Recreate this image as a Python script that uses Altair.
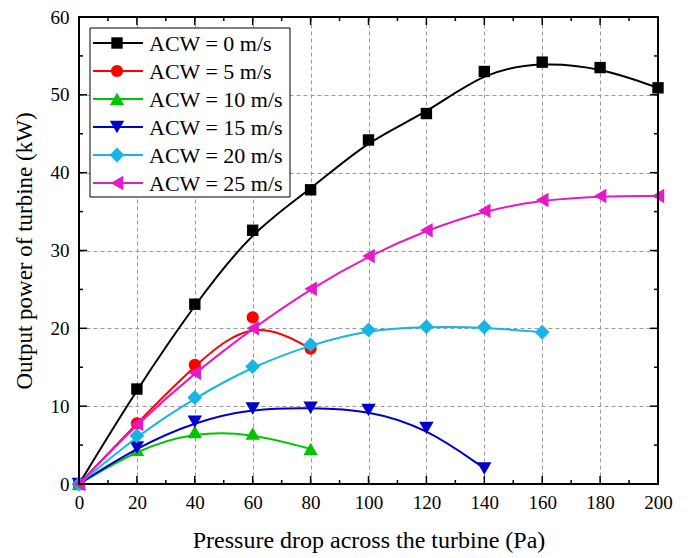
import altair as alt
import pandas as pd

# ---- data ----
x_vals = [0, 20, 40, 60, 80, 100, 120, 140, 160, 180, 200]
acw0 = [0, 12.2, 23.1, 32.6, 37.8, 44.2, 47.6, 53.0, 54.2, 53.5, 50.9]
acw5 = [0, 7.8, 15.3, 21.4, 17.4]
acw10 = [0, 4.4, 6.7, 6.5, 4.5]
acw15 = [0, 4.7, 8.0, 9.7, 9.8, 9.5, 7.2, 2.0]
acw20 = [0, 6.2, 11.1, 15.1, 17.9, 19.8, 20.2, 20.15, 19.5]
acw25 = [0, 7.7, 14.3, 20.0, 25.1, 29.3, 32.6, 35.1, 36.5, 37.0, 37.0]

series_names = ["ACW = 0 m/s", "ACW = 5 m/s", "ACW = 10 m/s",
                "ACW = 15 m/s", "ACW = 20 m/s", "ACW = 25 m/s"]
series_values = [acw0, acw5, acw10, acw15, acw20, acw25]
colors = ["#000000", "#FF0000", "#00C400", "#0000CC", "#17B5E5", "#E619C8"]
shapes = ["square", "circle", "triangle-up", "triangle-down", "diamond", "triangle-left"]
sizes = [130, 150, 210, 210, 220, 210]

x_major = [0, 20, 40, 60, 80, 100, 120, 140, 160, 180, 200]
x_minor = [10, 30, 50, 70, 90, 110, 130, 150, 170, 190]
y_major = [0, 10, 20, 30, 40, 50, 60]
y_minor = [5, 15, 25, 35, 45, 55]

W, H = 579, 467
FONT = "Liberation Serif"

xscale = alt.Scale(domain=[0, 200], nice=False, zero=False)
yscale = alt.Scale(domain=[0, 60], nice=False, zero=False)

xaxis = alt.Axis(values=x_major, title="Pressure drop across the turbine (Pa)",
                 domain=False, ticks=False, grid=True, gridDash=[4, 3],
                 gridColor="#999999", gridWidth=1, labelFont=FONT,
                 labelFontSize=19, labelColor="black", labelPadding=9,
                 titleFont=FONT, titleFontSize=24, titleFontWeight="normal",
                 titleColor="black", titlePadding=16, labelFlush=False)
yaxis = alt.Axis(values=y_major, title="Output power of turbine (kW)",
                 domain=False, ticks=False, grid=True, gridDash=[4, 3],
                 gridColor="#999999", gridWidth=1, labelFont=FONT,
                 labelFontSize=19, labelColor="black", labelPadding=10,
                 titleFont=FONT, titleFontSize=23, titleFontWeight="normal",
                 titleColor="black", titlePadding=14, labelFlush=False)

def X(field="x"):
    return alt.X(f"{field}:Q", scale=xscale, axis=xaxis, title="Pressure drop across the turbine (Pa)")

def Y(field="y"):
    return alt.Y(f"{field}:Q", scale=yscale, axis=yaxis, title="Output power of turbine (kW)")

layers = []

# ---- inner ticks ----
def xticks(vals, length):
    d = pd.DataFrame({"x": vals})
    bottom = alt.Chart(d).mark_rule(color="black", strokeWidth=1.5).encode(
        x=X(), y=alt.value(H), y2=alt.value(H - length))
    top = alt.Chart(d).mark_rule(color="black", strokeWidth=1.5).encode(
        x=X(), y=alt.value(0), y2=alt.value(length))
    return [bottom, top]

def yticks(vals, length):
    d = pd.DataFrame({"y": vals})
    left = alt.Chart(d).mark_rule(color="black", strokeWidth=1.5).encode(
        y=Y(), x=alt.value(0), x2=alt.value(length))
    right = alt.Chart(d).mark_rule(color="black", strokeWidth=1.5).encode(
        y=Y(), x=alt.value(W), x2=alt.value(W - length))
    return [left, right]

layers += xticks(x_major, 8) + xticks(x_minor, 4) + yticks(y_major, 8) + yticks(y_minor, 4)

# ---- series ----
for name, vals, col, shp, sz in zip(series_names, series_values, colors, shapes, sizes):
    d = pd.DataFrame({"x": x_vals[:len(vals)], "y": vals, "series": name})
    line = alt.Chart(d).mark_line(interpolate="basis", strokeWidth=2, color=col).encode(
        x=X(), y=Y())
    pts = alt.Chart(d).mark_point(shape=shp, filled=True, size=sz, color=col, opacity=1).encode(
        x=X(), y=Y())
    layers += [line, pts]

# ---- frame ----
one = pd.DataFrame({"a": [0]})
frame = alt.Chart(one).mark_rect(fillOpacity=0, stroke="black", strokeWidth=2).encode(
    x=alt.value(0), x2=alt.value(W), y=alt.value(0), y2=alt.value(H))
layers.append(frame)

# ---- legend (drawn manually) ----
LX0, LY0, LX1, LY1 = 11, 11, 211, 180
legend_box = alt.Chart(one).mark_rect(fill="white", stroke="black", strokeWidth=1).encode(
    x=alt.value(LX0), x2=alt.value(LX1), y=alt.value(LY0), y2=alt.value(LY1))
layers.append(legend_box)
for i, (name, col, shp, sz) in enumerate(zip(series_names, colors, shapes, sizes)):
    ry = 26 + 28 * i
    dd = pd.DataFrame({"label": [name]})
    layers.append(alt.Chart(dd).mark_rule(color=col, strokeWidth=2).encode(
        x=alt.value(14), x2=alt.value(64), y=alt.value(ry)))
    layers.append(alt.Chart(dd).mark_point(shape=shp, filled=True, size=sz, color=col, opacity=1).encode(
        x=alt.value(38), y=alt.value(ry)))
    layers.append(alt.Chart(dd).mark_text(font=FONT, fontSize=22, color="black",
                                          align="left", baseline="middle").encode(
        x=alt.value(70), y=alt.value(ry + 1), text="label:N"))

chart = alt.layer(*layers).properties(
    width=W, height=H,
    autosize=alt.AutoSizeParams(type="none"),
    padding={"left": 79, "top": 17, "right": 30, "bottom": 74},
    background="white",
).configure_view(stroke=None)

chart.save("out.html", embed_options={"renderer": "svg", "actions": False})
